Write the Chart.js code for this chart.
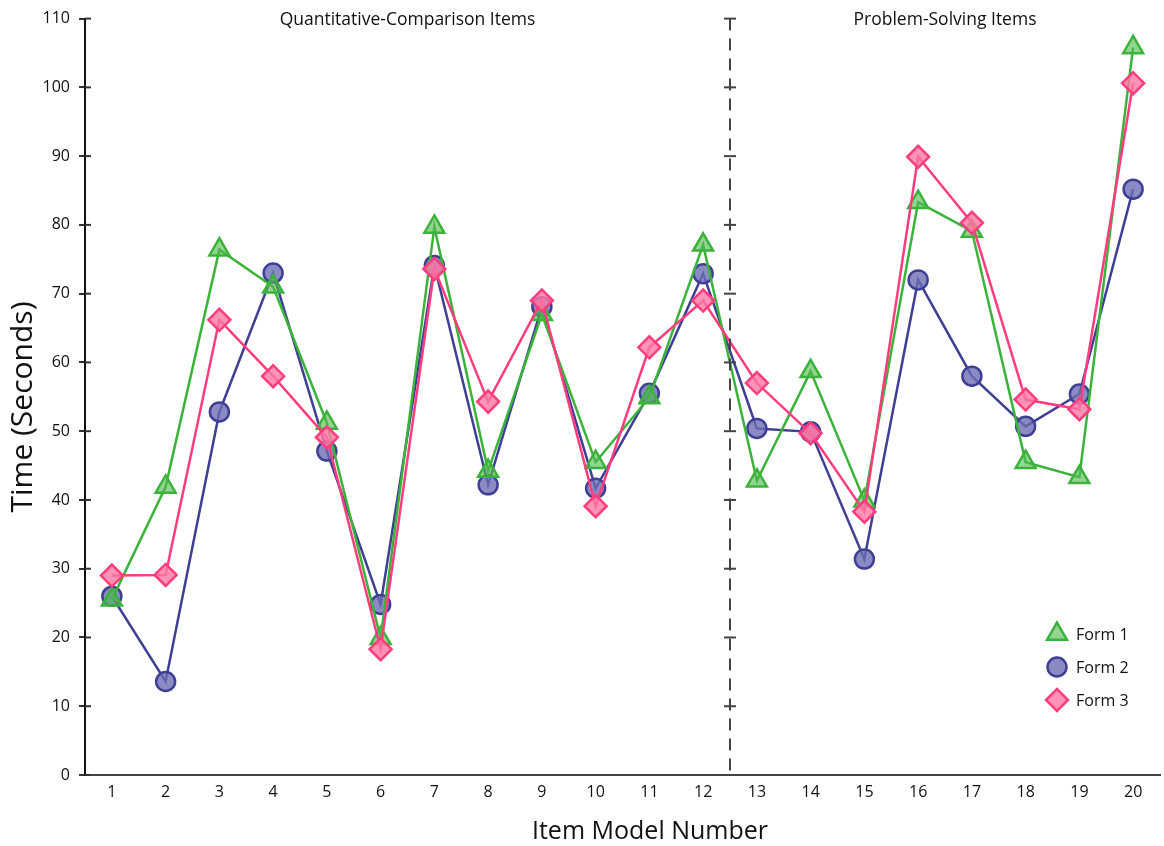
<!DOCTYPE html>
<html>
<head>
<meta charset="utf-8">
<script src="https://cdn.jsdelivr.net/npm/chart.js@4.4.0/dist/chart.umd.min.js"></script>
<style>
  html, body { margin: 0; padding: 0; background: #fff; }
  #wrap { width: 1164px; height: 846px; position: relative; }
</style>
</head>
<body>
<div id="wrap"><canvas id="c" width="1164" height="846"></canvas></div>
<script>
const categories = ['1','2','3','4','5','6','7','8','9','10','11','12','13','14','15','16','17','18','19','20'];
const form1 = [25.5, 41.9, 76.4, 71.0, 51.2, 19.9, 79.7, 44.2, 67.0, 45.5, 54.9, 77.1, 42.8, 58.7, 39.9, 83.3, 79.1, 45.5, 43.3, 105.8];
const form2 = [26.0, 13.6, 52.8, 73.0, 47.1, 24.8, 74.1, 42.2, 68.1, 41.7, 55.5, 72.9, 50.4, 49.9, 31.4, 72.0, 58.0, 50.7, 55.4, 85.2];
const form3 = [29.0, 29.1, 66.2, 58.0, 49.1, 18.3, 73.6, 54.3, 69.0, 39.1, 62.2, 69.0, 57.0, 49.7, 38.3, 89.9, 80.3, 54.6, 53.2, 100.6];
const seriesNames = ['Form 1', 'Form 2', 'Form 3'];
const sectionTitles = ['Quantitative-Comparison Items', 'Problem-Solving Items'];
const sectionSplit = 12; // number of items in the first section
const yTicks = [0, 10, 20, 30, 40, 50, 60, 70, 80, 90, 100, 110];
const xTitle = 'Item Model Number';
const yTitle = 'Time (Seconds)';

const FONT = "'Open Sans', 'Noto Sans', sans-serif";

const styles = [
  { border: '#3bb33b', fill: 'rgba(80,185,80,0.62)', style: 'triangle', r: 11.5, order: 2 },
  { border: '#3f3f96', fill: 'rgba(110,110,180,0.8)', style: 'circle', r: 9.5, order: 3 },
  { border: '#ff3d7f', fill: 'rgba(255,120,165,0.8)', style: 'rectRot', r: 11, order: 1 }
];
const values = [form1, form2, form3];

const datasets = values.map((v, i) => ({
  label: seriesNames[i],
  data: v,
  borderColor: styles[i].border,
  backgroundColor: styles[i].fill,
  borderWidth: 2.5,
  pointStyle: styles[i].style,
  pointRadius: styles[i].r,
  pointBorderWidth: 2.5,
  pointBackgroundColor: styles[i].fill,
  pointBorderColor: styles[i].border,
  order: styles[i].order,
  tension: 0,
  clip: false
}));

const decorPlugin = {
  id: 'decor',
  afterDraw(chart) {
    const ctx = chart.ctx;
    const x = chart.scales.x, y = chart.scales.y;
    const area = chart.chartArea;
    ctx.save();
    // inner tick marks on y axis
    ctx.strokeStyle = '#333';
    ctx.lineWidth = 2;
    yTicks.forEach(v => {
      const py = y.getPixelForValue(v);
      ctx.beginPath();
      ctx.moveTo(area.left, py);
      ctx.lineTo(area.left + 6, py);
      ctx.stroke();
    });
    // divider between sections
    const divX = (x.getPixelForValue(sectionSplit - 1) + x.getPixelForValue(sectionSplit)) / 2;
    ctx.strokeStyle = '#444';
    ctx.lineWidth = 2;
    ctx.setLineDash([12, 8]);
    ctx.beginPath();
    ctx.moveTo(divX, y.getPixelForValue(110));
    ctx.lineTo(divX, y.getPixelForValue(0));
    ctx.stroke();
    ctx.setLineDash([]);
    yTicks.forEach(v => {
      const py = y.getPixelForValue(v);
      ctx.beginPath();
      ctx.moveTo(divX - 6, py);
      ctx.lineTo(divX + 6, py);
      ctx.stroke();
    });
    // section titles
    ctx.fillStyle = '#111';
    ctx.font = '17.5px ' + FONT;
    ctx.textAlign = 'center';
    ctx.textBaseline = 'middle';
    const t1x = (x.getPixelForValue(0) + x.getPixelForValue(sectionSplit - 1)) / 2;
    const t2x = (x.getPixelForValue(sectionSplit) + x.getPixelForValue(categories.length - 1)) / 2;
    ctx.fillText(sectionTitles[0], t1x, 20);
    ctx.fillText(sectionTitles[1], t2x, 20);
    // axis titles
    ctx.font = '25px ' + FONT;
    ctx.fillText(xTitle, 650, 832);
    ctx.save();
    ctx.translate(23, 407);
    ctx.rotate(-Math.PI / 2);
    ctx.font = '30px ' + FONT;
    ctx.fillText(yTitle, 0, 0);
    ctx.restore();
    // legend
    ctx.textAlign = 'left';
    ctx.font = '16px ' + FONT;
    const lx = 1057, ly0 = 634, dy = 33;
    styles.forEach((s, i) => {
      const cy = ly0 + i * dy;
      ctx.fillStyle = s.fill;
      ctx.strokeStyle = s.border;
      ctx.lineWidth = 2.5;
      Chart.helpers.drawPoint(ctx, { pointStyle: s.style, radius: s.r, rotation: 0, borderWidth: 2.5 }, lx, cy);
      ctx.fillStyle = '#111';
      ctx.fillText(seriesNames[i], lx + 19, cy + 1);
    });
    ctx.restore();
  }
};

new Chart(document.getElementById('c'), {
  type: 'line',
  data: { labels: categories, datasets },
  options: {
    responsive: false,
    animation: false,
    devicePixelRatio: 1,
    layout: { autoPadding: false, padding: { top: 14, right: 4, left: 0, bottom: 0 } },
    plugins: { legend: { display: false }, tooltip: { enabled: false } },
    scales: {
      x: {
        type: 'category',
        offset: true,
        grid: { display: true, drawOnChartArea: false, drawTicks: false },
        border: { display: true, color: '#444', width: 2 },
        ticks: { color: '#111', font: { family: FONT, size: 16 }, padding: 8, maxRotation: 0, autoSkip: false },
        title: { display: false },
        afterFit(scale) { scale.height = 71; }
      },
      y: {
        min: 0,
        max: 110,
        ticks: { stepSize: 10, color: '#111', font: { family: FONT, size: 16 }, padding: 9 },
        grid: { display: true, drawOnChartArea: false, drawTicks: true, tickLength: 6, color: '#333', lineWidth: 2 },
        border: { display: true, color: '#111', width: 2 },
        title: { display: false },
        afterFit(scale) { scale.width = 85; }
      }
    }
  },
  plugins: [decorPlugin]
});
</script>
</body>
</html>
